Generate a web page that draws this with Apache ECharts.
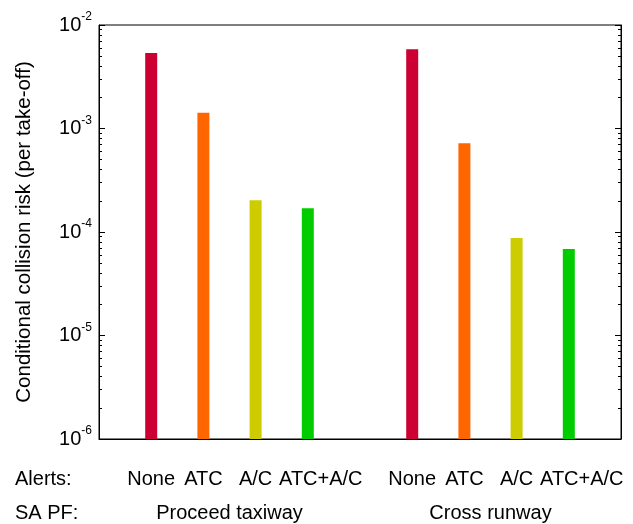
<!DOCTYPE html>
<html>
<head>
<meta charset="utf-8">
<script src="https://cdn.jsdelivr.net/npm/echarts@6/dist/echarts.min.js"></script>
<style>
html,body{margin:0;padding:0;background:#fff;}
#chart{width:633px;height:524px;}
</style>
</head>
<body>
<div id="chart"></div>
<script>
// ---- data ----
const alertTypes = ['None', 'ATC', 'A/C', 'ATC+A/C'];
const scenarios = ['Proceed taxiway', 'Cross runway'];
const taxiwayRisk = [5.36e-3, 1.42e-3, 2.03e-4, 1.70e-4];
const runwayRisk = [5.82e-3, 7.19e-4, 8.75e-5, 6.85e-5];
const alertColors = ['#CC0033', '#FF6600', '#CCCC00', '#00CC00'];
const decadeExponents = [-6, -5, -4, -3, -2];
const rowLabels = ['Alerts:', 'SA PF:'];
const yTitle = 'Conditional collision risk (per take-off)';

// ---- derived ----
const FONT = 'Liberation Sans, Arial, Helvetica, sans-serif';
const FS = 20;
const categories = [''].concat(alertTypes, [''], alertTypes, ['']);
const riskGroups = [taxiwayRisk, runwayRisk];
const barData = [];
let slot = 1;
riskGroups.forEach((grp) => {
  grp.forEach((v, i) => {
    barData.push([slot, v, i]);
    slot++;
  });
  slot++;
});
const majorVals = decadeExponents.map(e => Math.pow(10, e));
const minorVals = [];
for (let k = 0; k < decadeExponents.length - 1; k++) {
  for (let m = 2; m <= 9; m++) minorVals.push(m * Math.pow(10, decadeExponents[k]));
}
const groupCenters = [2.5, 7.5];

const yMin = majorVals[0], yMax = majorVals[majorVals.length - 1];
function baseY(extra) {
  return Object.assign({
    type: 'log', logBase: 10, min: yMin, max: yMax,
    splitLine: { show: false },
    axisLine: { show: false },
    axisLabel: { show: false },
    axisTick: { show: false }
  }, extra);
}

const chart = echarts.init(document.getElementById('chart'), null, { renderer: 'canvas' });
chart.setOption({
  animation: false,
  backgroundColor: '#fff',
  textStyle: { fontFamily: FONT },
  grid: { left: 99, right: 12, top: 25, bottom: 85, show: true, borderColor: '#000', borderWidth: 1, backgroundColor: 'transparent' },
  xAxis: [
    {
      type: 'category', data: categories, boundaryGap: false, position: 'bottom',
      axisLine: { show: true, lineStyle: { color: '#000', width: 1 } },
      axisTick: { show: false },
      splitLine: { show: false },
      axisLabel: {
        interval: 0, margin: 30, color: '#000', fontSize: FS, fontFamily: FONT,
        formatter: v => v === 'ATC+A/C' ? '{s|' + v + '}' : v,
        rich: { s: { fontSize: FS, fontFamily: FONT, color: '#000', padding: [0, 0, 0, 26] } }
      }
    },
    {
      type: 'value', min: 0, max: 10, position: 'bottom',
      axisLine: { show: false }, axisTick: { show: false }, splitLine: { show: false },
      axisLabel: {
        customValues: groupCenters, margin: 64, color: '#000', fontSize: FS, fontFamily: FONT,
        formatter: v => scenarios[groupCenters.indexOf(v)] || ''
      }
    }
  ],
  yAxis: [
    baseY({
      position: 'left',
      axisLine: { show: true, lineStyle: { color: '#000', width: 1 } },
      axisTick: { show: true, inside: true, length: 6, customValues: majorVals, lineStyle: { color: '#000' } },
      axisLabel: {
        show: true, customValues: majorVals, margin: 7, color: '#000',
        formatter: v => {
          const e = Math.round(Math.log10(v));
          return '{b|10}{e|' + e + '}';
        },
        rich: {
          b: { fontSize: 20, fontFamily: FONT, color: '#000', lineHeight: 20 },
          e: { fontSize: 12, fontFamily: FONT, color: '#000', lineHeight: 12, padding: [0, 0, 16, 0] }
        }
      },
      name: yTitle, nameLocation: 'middle', nameRotate: 90, nameGap: 64,
      nameTextStyle: { fontSize: 20.5, fontFamily: FONT, color: '#000' }
    }),
    baseY({
      position: 'left',
      axisTick: { show: true, inside: true, length: 3, customValues: minorVals, lineStyle: { color: '#000' } }
    }),
    baseY({
      position: 'right',
      axisLine: { show: true, lineStyle: { color: '#000', width: 1 } },
      axisTick: { show: true, inside: true, length: 6, customValues: majorVals, lineStyle: { color: '#000' } }
    }),
    baseY({
      position: 'right',
      axisTick: { show: true, inside: true, length: 3, customValues: minorVals, lineStyle: { color: '#000' } }
    })
  ],
  graphic: rowLabels.map((t, i) => ({
    type: 'text', left: 15, top: i === 0 ? 469 : 503,
    style: { text: t, fontSize: FS, fontFamily: FONT, fill: '#000' }
  })),
  series: [{
    type: 'custom', xAxisIndex: 0, yAxisIndex: 0,
    encode: { x: 0, y: 1 },
    renderItem: (params, api) => {
      const idx = api.value(0);
      const top = api.coord([idx, api.value(1)]);
      const bottom = api.coord([idx, yMin]);
      const w = 12;
      return {
        type: 'rect',
        shape: { x: top[0] - w / 2, y: top[1], width: w, height: bottom[1] - top[1] },
        style: { fill: alertColors[api.value(2)] }
      };
    },
    data: barData
  }]
});
</script>
</body>
</html>
